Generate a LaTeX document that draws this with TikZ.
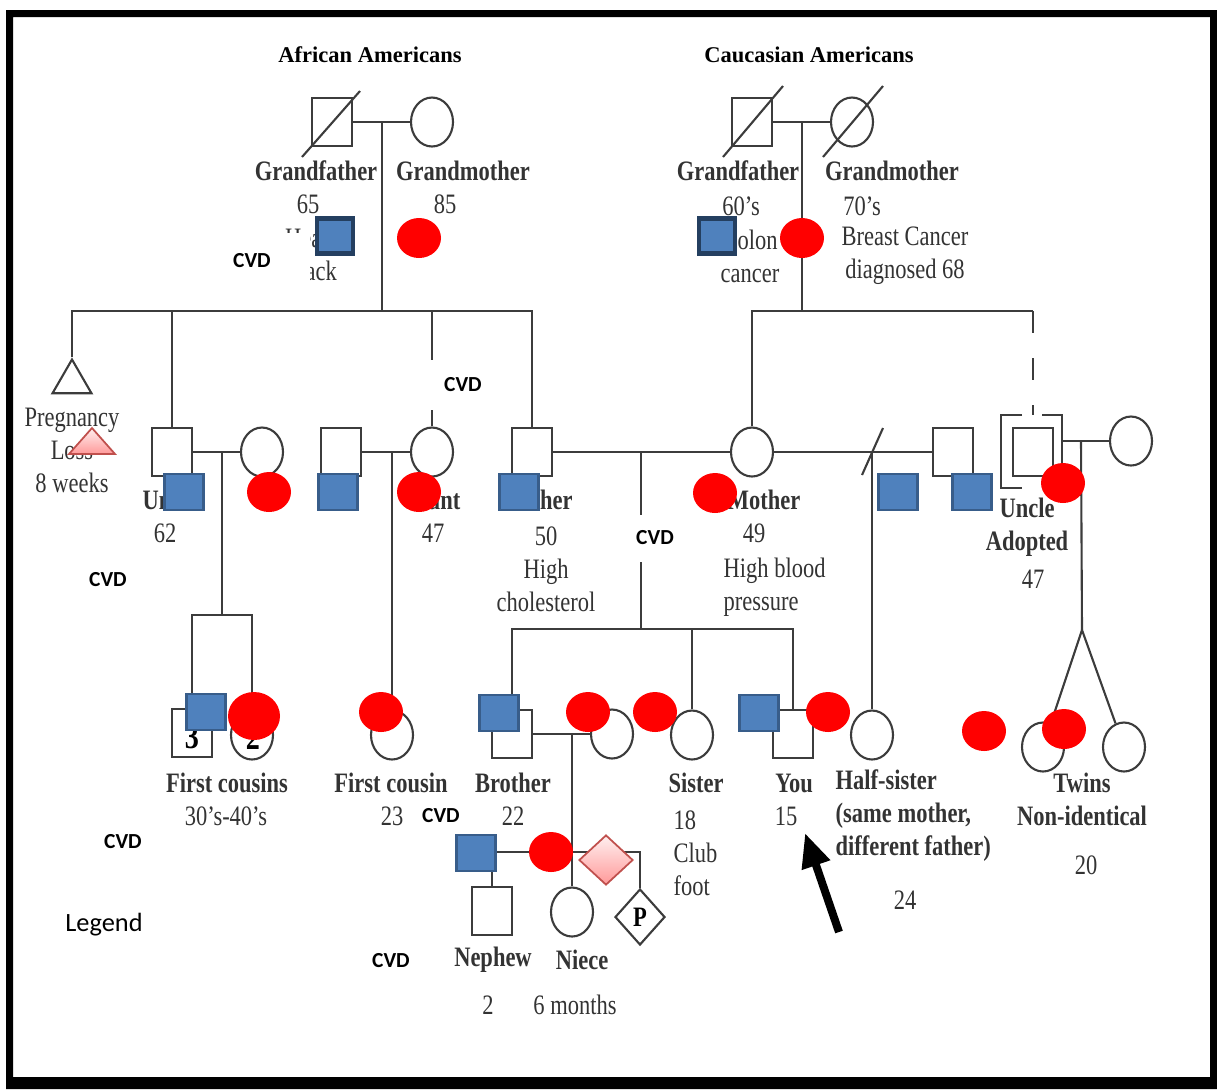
\documentclass[tikz,border=0pt]{standalone}
\usepackage{fontspec}
\newfontfamily\pedfont[FakeStretch=0.8]{Liberation Serif}
\newfontfamily\headfont{Liberation Serif}
\newfontfamily\calfont{Carlito}
\usetikzlibrary{arrows.meta,shapes.geometric}

\definecolor{pedline}{HTML}{3C3C3C}
\definecolor{cvdblue}{HTML}{4F81BD}
\definecolor{cvdedge}{HTML}{385D8A}
\definecolor{cvddark}{HTML}{243F60}
\definecolor{pinkedge}{HTML}{C0504D}

\tikzset{
  kin/.style={pedline,line width=0.6pt},
  male/.style={rectangle,draw=pedline,line width=0.6pt,minimum width=4mm,minimum height=4.8mm,inner sep=0pt},
  female/.style={ellipse,draw=pedline,line width=0.6pt,minimum width=4.2mm,minimum height=4.9mm,inner sep=0pt},
  lbl/.style={font=\pedfont\fontsize{8}{9.4}\selectfont,align=center,inner sep=0pt,text=black!80},
  lblb/.style={lbl,font=\pedfont\fontsize{8}{9.4}\selectfont\bfseries},
  head/.style={font=\headfont\fontsize{6.4}{7}\selectfont\bfseries,inner sep=0pt},
  cvd/.style={font=\calfont\fontsize{6.1}{7}\selectfont\bfseries,fill=white,inner sep=1pt},
  bluesq/.style={rectangle,fill=cvdblue,draw=cvdedge,line width=0.8pt,minimum width=3.9mm,minimum height=3.6mm,inner sep=0pt},
  darksq/.style={bluesq,draw=cvddark,line width=1.4pt,minimum width=3.6mm,minimum height=3.5mm},
  reddot/.style={ellipse,fill=red,minimum width=4.4mm,minimum height=4mm,inner sep=0pt},
  pinkfill/.style={draw=pinkedge,line width=0.5pt,top color=red!6,bottom color=red!40},
}

\begin{document}
\begin{tikzpicture}[x=0.1mm,y=-0.1mm]
  \useasboundingbox (0,0) rectangle (1217,1089);
  \fill[even odd rule] (6,10) rectangle (1217,1089) (13,17) rectangle (1210,1077);

  \node[head] (tafr) at (370,55) {African Americans};
  \node[head] (tcau) at (809,55) {Caucasian Americans};

  % grandparents
  \node[male] (lgf) at (332,122) {};
  \node[female] (lgm) at (432,122) {};
  \node[male] (rgf) at (752,122) {};
  \node[female] (rgm) at (852,122) {};
  \draw[kin] (302,157) -- (360,91);
  \draw[kin] (723,157) -- (783,86);
  \draw[kin] (823,157) -- (883,86);

  % parents' generation
  \node[regular polygon,regular polygon sides=3,draw=pedline,line width=0.6pt,minimum size=4.5mm,inner sep=0pt] (preg) at (72,382) {};
  \node[male] (un) at (172,452) {};
  \node[female] (unw) at (262,452) {};
  \node[male] (auh) at (341,452) {};
  \node[female] (au) at (432,452) {};
  \node[male] (fa) at (532,452) {};
  \node[female] (mo) at (752,452) {};
  \node[male] (sf) at (953,452) {};
  \node[male] (adu) at (1033,452) {};
  \node[female] (adw) at (1131,441) {};

  % children
  \node[male] (cs1) at (192,733) {};
  \node[female] (cs2) at (252,735) {};
  \node[female] (fc) at (392,735) {};
  \node[male] (br) at (512,734) {};
  \node[female] (brw) at (612,734) {};
  \node[female] (si) at (692,735) {};
  \node[male] (you) at (793,734) {};
  \node[female] (hs) at (872,735) {};
  \node[female] (tw1) at (1043,747) {};
  \node[female] (tw2) at (1124,747) {};
  \node[male] (ne) at (492,911) {};
  \node[female] (ni) at (572,912) {};
  \node[diamond,draw=pedline,line width=0.6pt,minimum width=5mm,minimum height=5.6mm,inner sep=0pt,
    font=\pedfont\fontsize{8}{8}\selectfont\bfseries] (pb) at (640,917) {P};

  \coordinate (lgfam) at (382,122);
  \coordinate (lsib) at (382,311);
  \coordinate (rgfam) at (802,122);
  \coordinate (rsib) at (802,311);
  \coordinate (adsib) at (1033,311);
  \coordinate (adbrk) at (1033,415);
  \coordinate (adbr) at (1062,441);
  \coordinate (unfam) at (222,452);
  \coordinate (unsib) at (222,615);
  \coordinate (aufam) at (392,452);
  \coordinate (pfam) at (641,452);
  \coordinate (psib) at (641,629);
  \coordinate (sffam) at (872,452);
  \coordinate (adfam) at (1081,441);
  \coordinate (twtop) at (1082,630);
  \coordinate (brfam) at (572,734);
  \coordinate (brsib) at (572,852);

  \draw[kin] (lgf) -- (lgm);
  \draw[kin] (rgf) -- (rgm);
  \draw[kin] (lgfam) -- (lsib);
  \draw[kin] (rgfam) -- (rsib);
  \draw[kin] (preg.north) |- (fa.north |- lsib) -- (fa.north);
  \draw[kin] (un.north) -- (un.north |- lsib);
  \draw[kin] (au.north) -- (au.north |- lsib);
  \draw[kin] (mo.north) |- (adsib);
  \draw[kin,dash pattern=on 2.2mm off 2.5mm] (adsib) -- (adbrk);
  \draw[kin] (1022,415) -- (1001,415) -- (1001,488) -- (1022,488);
  \draw[kin] (1042,415) -- (1062,415) -- (1062,488) -- (1042,488);

  \draw[kin] (un) -- (unw);
  \draw[kin] (auh) -- (au);
  \draw[kin] (fa) -- (mo);
  \draw[kin] (mo) -- (sf);
  \draw[kin] (862,475) -- (883,428);
  \draw[kin] (adbr) -- (adw);

  \draw[kin] (unfam) -- (unsib);
  \draw[kin] (cs1.north) |- (cs2.north |- unsib) -- (cs2.north);
  \draw[kin] (aufam) -- (fc.north);
  \draw[kin] (pfam) -- (psib);
  \draw[kin] (br.north) |- (you.north |- psib) -- (you.north);
  \draw[kin] (si.north) -- (si.north |- psib);
  \draw[kin] (sffam) -- (hs.north);
  \draw[kin] (adfam) -- (twtop);
  \draw[kin] (tw1) -- (twtop) -- (tw2);
  \draw[kin] (br) -- (brw);
  \draw[kin] (brfam) -- (ni.north);
  \draw[kin] (ne.north) |- (pb.north |- brsib) -- (pb.north);

  % labels
  \node[lblb] (lgfl) at (316,171) {Grandfather};
  \node[lblb] (lgml) at (463,171) {Grandmother};
  \node[lbl] (lgfa) at (308,204) {65};
  \node[lbl] (lgma) at (445,204) {85};
  \node[lbl] (lgfd) at (310,255) {Heart\\attack};
  \node[lblb] (rgfl) at (738,171) {Grandfather};
  \node[lblb] (rgml) at (892,171) {Grandmother};
  \node[lbl] (rgfa) at (741,206) {60’s};
  \node[lbl] (rgma) at (862,206) {70’s};
  \node[lbl] (rgfd) at (750,256) {Colon\\cancer};
  \node[lbl] (rgmd) at (905,256) {Breast Cancer\\diagnosed 68};
  \node[lbl] (pregl) at (72,450) {Pregnancy\\Loss\\8 weeks};
  \node[lblb] (unl) at (170,500) {Uncle};
  \node[lbl] (una) at (165,533) {62};
  \node[lblb] (aul) at (436,500) {Aunt};
  \node[lbl] (aua) at (433,533) {47};
  \node[lblb] (fal) at (540,500) {Father};
  \node[lbl] (fad) at (546,569) {50\\High\\cholesterol};
  \node[lblb] (mol) at (764,500) {Mother};
  \node[lbl] (moa) at (754,533) {49};
  \node[lbl,anchor=west,align=left] (mod) at (723,587) {High blood\\pressure};
  \node[lblb] (adul) at (1027,527) {Uncle\\Adopted};
  \node[lbl] (adua) at (1033,579) {47};
  \node[font=\pedfont\fontsize{10}{10}\selectfont\bfseries,inner sep=0pt] (cs1n) at (192,737) {3};
  \node[font=\pedfont\fontsize{10}{10}\selectfont\bfseries,inner sep=0pt] (cs2n) at (253,738) {2};
  \node[lblb] (csl) at (227,783) {First cousins};
  \node[lbl] (csa) at (226,816) {30’s-40’s};
  \node[lblb] (fcl) at (391,783) {First cousin};
  \node[lbl] (fca) at (392,816) {23};
  \node[lblb] (brl) at (513,783) {Brother};
  \node[lbl] (bra) at (513,816) {22};
  \node[lblb] (sil) at (696,783) {Sister};
  \node[lbl,anchor=west,align=left] (sid) at (673,853) {18\\Club\\foot};
  \node[lblb] (youl) at (794,783) {You};
  \node[lbl] (youa) at (786,816) {15};
  \node[lblb,anchor=west,align=left] (hsl) at (835,816) {Half-sister\\(same mother,\\different father)};
  \node[lbl] (hsa) at (905,900) {24};
  \node[lblb] (twl) at (1082,799) {Twins\\Non-identical};
  \node[lbl] (twa) at (1086,865) {20};
  \node[lblb] (nel) at (493,960) {Nephew};
  \node[lblb] (nil) at (582,960) {Niece};
  \node[lbl] (nea) at (488,1005) {2};
  \node[lbl] (nia) at (575,1005) {6 months};

  % legend marks
  \node[cvd,minimum width=11.6mm,minimum height=5.6mm] (cvd1) at (252,261) {CVD};
  \node[cvd,minimum width=7.6mm,minimum height=5mm] (cvd2) at (463,385) {CVD};
  \node[cvd,minimum width=5.4mm,minimum height=4.7mm] (cvd3) at (655,538) {CVD};
  \node[cvd] (cvd4) at (108,580) {CVD};
  \node[cvd] (cvd5) at (123,842) {CVD};
  \node[cvd] (cvd6) at (441,816) {CVD};
  \node[cvd] (cvd7) at (391,961) {CVD};
  \node[font=\calfont\fontsize{7.5}{9}\selectfont,inner sep=0pt] (legend) at (104,925) {Legend};

  \node[darksq] (bsgl) at (335,236) {};
  \node[darksq] (bsgr) at (717,236) {};
  \foreach \x/\y [count=\i] in {184/492,338/492,519/492,898/492,972/492,206/712,499/713,759/713,476/853}
    {\node[bluesq] (bs\i) at (\x,\y) {};}
  \foreach \x/\y [count=\i] in {419/238,802/238,269/492,419/492,715/493,1063/483,381/712,588/712,655/712,828/712,551/852,984/731,1064/729}
    {\node[reddot] (rd\i) at (\x,\y) {};}
  \node[reddot,minimum width=5.2mm,minimum height=4.8mm] (rdcs) at (254,716) {};
  \draw[pinkfill] (92,428) -- (115,454) -- (69,454) -- cycle;
  \node[diamond,pinkfill,minimum width=5.4mm,minimum height=5mm,inner sep=0pt] (pdia) at (606,860) {};

  \coordinate (arrtail) at (839,932);
  \coordinate (arrtip) at (805,833);
  \draw[line width=0.8mm,-{Triangle[length=3.4mm,width=2.8mm]}] (arrtail) -- (arrtip);
\end{tikzpicture}
\end{document}
